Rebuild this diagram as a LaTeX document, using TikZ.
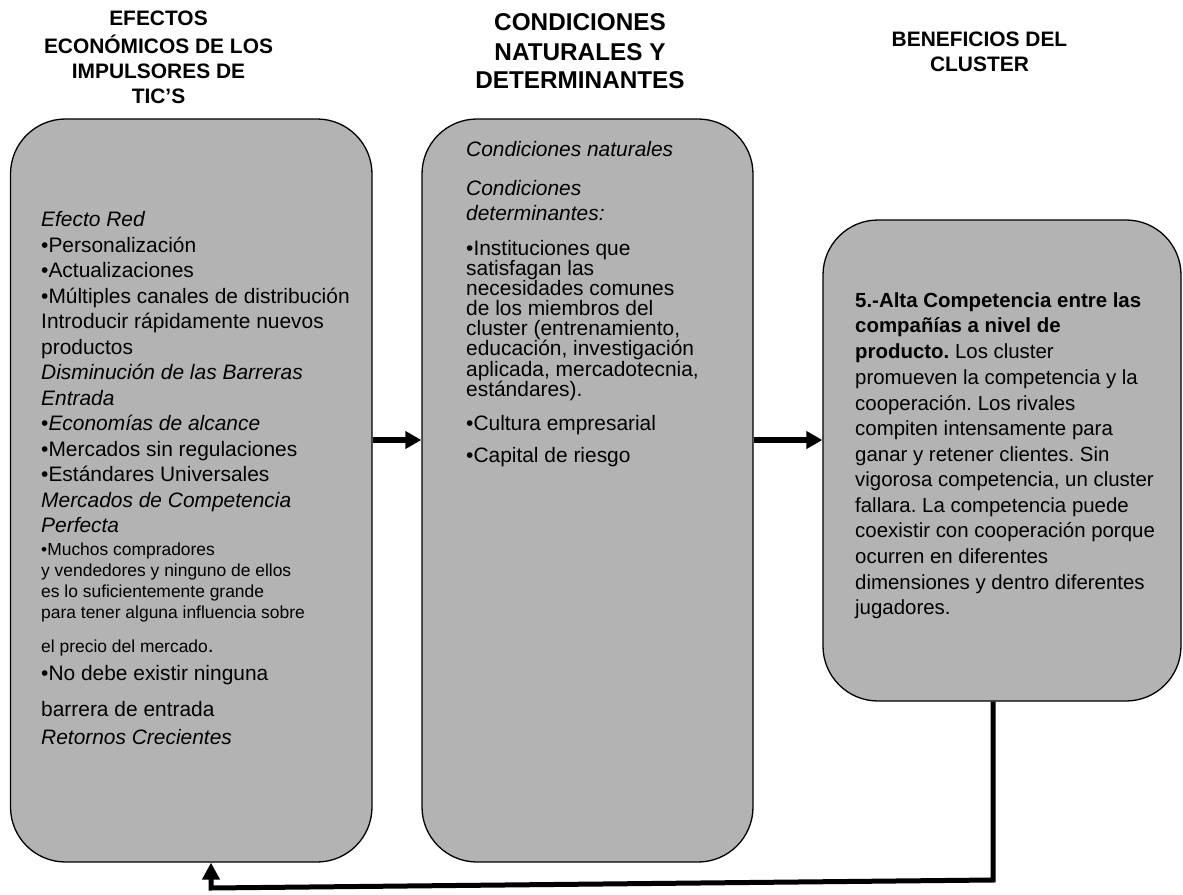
\documentclass[tikz,border=0pt]{standalone}
\usepackage{fontspec}
\setmainfont{Liberation Sans}
\usetikzlibrary{arrows.meta}
\definecolor{boxgray}{RGB}{179,179,179}
\frenchspacing
\begin{document}
\begin{tikzpicture}[x=1bp,y=-1bp,
  panel/.style={draw=black, line width=1.3bp, fill=boxgray, rounded corners=55bp, inner sep=0pt},
  ttl/.style={anchor=base, inner sep=0pt, font=\fontsize{21}{25}\selectfont\bfseries},
  bigttl/.style={anchor=base, inner sep=0pt, font=\fontsize{24.4}{29}\selectfont\bfseries},
  ln/.style={anchor=base west, inner sep=0pt, font=\fontsize{21}{25}\selectfont},
  smallln/.style={anchor=base west, inner sep=0pt, font=\fontsize{17.5}{21}\selectfont},
  rln/.style={anchor=base west, inner sep=0pt, font=\fontsize{20.5}{25}\selectfont},
  flow/.style={line width=6.5bp, -{Triangle[length=16bp,width=17bp]}},
  back/.style={line width=5bp, line join=miter, -{Triangle[length=17bp,width=17bp]}}
]
\useasboundingbox (0,0) rectangle (1183,895);

% the three panels
\node[panel, minimum width=361.5bp, minimum height=743bp] (b1) at (191.25,490.5) {};
\node[panel, minimum width=331bp, minimum height=743bp] (b2) at (587.5,490.5) {};
\node[panel, minimum width=358bp, minimum height=481bp] (b3) at (1002,460.5) {};

% column headings
\node[ttl] (h1a) at (158.5,25) {EFECTOS};
\node[ttl] (h1b) at (158.5,53.3) {ECONÓMICOS DE LOS};
\node[ttl] (h1c) at (158.5,78.3) {IMPULSORES DE};
\node[ttl] (h1d) at (158.5,103.3) {TIC’S};
\node[bigttl] (h2a) at (580,30) {CONDICIONES};
\node[bigttl] (h2b) at (580,60) {NATURALES Y};
\node[bigttl] (h2c) at (580,88.3) {DETERMINANTES};
\node[ttl] (h3a) at (979.5,46.7) {BENEFICIOS DEL};
\node[ttl] (h3b) at (979.5,71.7) {CLUSTER};

% left panel text
\foreach \y/\txt [count=\i] in {
  226.7/{\textit{Efecto Red}},
  252.2/{•Personalización},
  277.7/{•Actualizaciones},
  303.2/{•Múltiples canales de distribución},
  328.7/{Introducir rápidamente nuevos},
  354.2/{productos},
  379.7/{\textit{Disminución de las Barreras}},
  405.2/{\textit{Entrada}},
  430.7/{•\textit{Economías de alcance}},
  456.2/{•Mercados sin regulaciones},
  481.7/{•Estándares Universales},
  507.2/{\textit{Mercados de Competencia}},
  532.7/{\textit{Perfecta}},
  680/{•No debe existir ninguna},
  716/{barrera de entrada},
  744/{\textit{Retornos Crecientes}}}
  \node[ln] (p1-\i) at (41,\y) {\txt};
\foreach \y/\txt [count=\i] in {
  555/{•Muchos compradores},
  576/{y vendedores y ninguno de ellos},
  597.3/{es lo suficientemente grande},
  618.7/{para tener alguna influencia sobre},
  652.7/{el precio del mercado{\fontsize{21}{25}\selectfont.}}}
  \node[smallln] (q1-\i) at (41,\y) {\txt};

% middle panel text
\foreach \y/\txt [count=\i] in {
  156.7/{\textit{Condiciones naturales}},
  195/{\textit{Condiciones}},
  220/{\textit{determinantes:}},
  255/{•Instituciones que},
  275/{satisfagan las},
  295/{necesidades comunes},
  315/{de los miembros del},
  335/{cluster (entrenamiento,},
  355/{educación, investigación},
  376/{aplicada, mercadotecnia,},
  396/{estándares).},
  430/{•Cultura empresarial},
  462/{•Capital de riesgo}}
  \node[ln] (p2-\i) at (466,\y) {\txt};

% right panel text
\foreach \y/\txt [count=\i] in {
  307.3/{\textbf{5.-Alta Competencia entre las}},
  332.7/{\textbf{compañías a nivel de}},
  358.3/{\textbf{producto.} Los cluster},
  384.3/{promueven la competencia y la},
  410/{cooperación. Los rivales},
  435.7/{compiten intensamente para},
  461/{ganar y retener clientes. Sin},
  486.7/{vigorosa competencia, un cluster},
  512.3/{fallara. La competencia puede},
  537.7/{coexistir con cooperación porque},
  563.3/{ocurren en diferentes},
  589/{dimensiones y dentro diferentes},
  614.3/{jugadores.}}
  \node[rln] (p3-\i) at (855,\y) {\txt};

% connectors
\coordinate (ay) at (0,440);
\draw[flow] (b1.east |- ay) -- (b2.west |- ay);
\draw[flow] (b2.east |- ay) -- (b3.west |- ay);
\coordinate (fr) at (993,880);
\coordinate (fl) at (211,888);
\draw[back] (b3.south -| fr) -- (fr) -- (fl) -- (b1.south -| fl);
\end{tikzpicture}
\end{document}
